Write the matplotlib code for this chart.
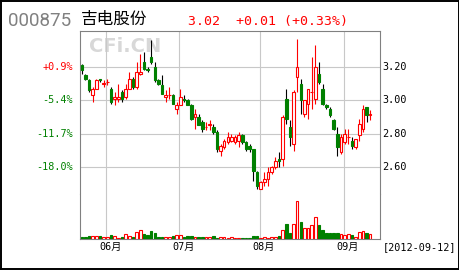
import matplotlib
matplotlib.use("Agg")
import matplotlib.pyplot as plt
from matplotlib.lines import Line2D

OUTPUT_FILE = "out.png"

# daily candles, 2012-05-23 .. 2012-09-12
opens = [3.21, 3.15, 3.12, 3.03, 3.07, 3.13, 3.10, 3.11, 3.07, 3.01,
         3.01, 3.05, 3.02, 3.07, 3.13, 3.08, 3.16, 3.23, 3.19, 3.26,
         3.20, 3.12, 3.09, 3.02, 3.03, 3.03, 2.95, 2.97, 3.01, 3.00,
         2.97, 2.90, 2.90, 2.87, 2.84, 2.85, 2.84, 2.81, 2.70, 2.72,
         2.75, 2.76, 2.75, 2.76, 2.79, 2.75, 2.73, 2.71, 2.57, 2.47,
         2.51, 2.53, 2.57, 2.60, 2.65, 2.65, 3.01, 2.84, 2.74, 3.14,
         3.10, 2.92, 2.98, 3.05, 3.01, 3.16, 3.07, 2.97, 2.95, 2.88,
         2.80, 2.69, 2.75, 2.78, 2.76, 2.72, 2.79, 2.83, 2.96, 2.91]
closes = [3.18, 3.13, 3.06, 3.07, 3.12, 3.12, 3.10, 3.11, 2.99, 3.02,
          3.02, 3.01, 3.07, 3.13, 3.08, 3.17, 3.17, 3.19, 3.18, 3.23,
          3.12, 3.10, 3.04, 3.03, 3.03, 2.98, 2.97, 3.02, 3.00, 2.97,
          2.89, 2.92, 2.85, 2.83, 2.84, 2.86, 2.81, 2.71, 2.73, 2.76,
          2.78, 2.78, 2.78, 2.79, 2.75, 2.71, 2.71, 2.58, 2.49, 2.51,
          2.53, 2.57, 2.60, 2.64, 2.64, 2.90, 2.89, 2.78, 3.05, 3.20,
          3.00, 3.00, 3.07, 3.05, 3.20, 3.11, 2.98, 2.96, 2.91, 2.83,
          2.72, 2.78, 2.80, 2.78, 2.73, 2.77, 2.86, 2.95, 2.91, 2.92]
highs = [3.22, 3.16, 3.13, 3.08, 3.13, 3.13, 3.12, 3.13, 3.08, 3.05,
         3.10, 3.06, 3.10, 3.17, 3.14, 3.23, 3.28, 3.29, 3.20, 3.36,
         3.23, 3.13, 3.15, 3.06, 3.08, 3.04, 2.99, 3.07, 3.03, 3.01,
         2.98, 2.95, 2.92, 2.88, 2.87, 2.88, 2.86, 2.82, 2.74, 2.77,
         2.81, 2.80, 2.79, 2.81, 2.80, 2.76, 2.74, 2.71, 2.58, 2.52,
         2.57, 2.60, 2.61, 2.66, 2.69, 2.91, 3.07, 2.88, 3.06, 3.37,
         3.13, 3.00, 3.07, 3.26, 3.33, 3.23, 3.10, 2.98, 2.96, 2.89,
         2.84, 2.80, 2.83, 2.83, 2.78, 2.77, 2.89, 2.97, 2.96, 2.94]
lows = [3.16, 3.12, 3.05, 2.99, 3.07, 3.11, 3.08, 3.09, 2.98, 2.97,
        2.99, 2.99, 3.01, 3.07, 3.07, 3.07, 3.15, 3.18, 3.17, 3.22,
        3.11, 3.09, 3.04, 2.99, 3.01, 2.98, 2.92, 2.97, 2.99, 2.97,
        2.88, 2.83, 2.85, 2.81, 2.82, 2.82, 2.80, 2.69, 2.67, 2.71,
        2.74, 2.75, 2.74, 2.72, 2.74, 2.70, 2.69, 2.52, 2.47, 2.47,
        2.49, 2.49, 2.56, 2.59, 2.60, 2.61, 2.86, 2.73, 2.70, 3.05,
        2.92, 2.90, 2.89, 2.95, 2.98, 3.10, 2.97, 2.95, 2.90, 2.82,
        2.67, 2.68, 2.74, 2.74, 2.71, 2.71, 2.76, 2.81, 2.87, 2.88]
volumes = [2.0, 2.0, 3.3, 3.3, 3.3, 3.3, 2.0, 2.0, 4.3, 3.3,
           1.7, 2.7, 5.3, 3.3, 2.7, 7.3, 9.3, 5.3, 4.3, 8.7,
           6.0, 2.7, 2.7, 2.0, 2.0, 3.7, 4.7, 4.7, 2.7, 3.3,
           3.3, 2.0, 2.0, 2.0, 2.0, 2.0, 3.7, 1.0, 2.0, 2.0,
           1.3, 2.0, 1.3, 1.3, 1.3, 1.3, 1.3, 3.7, 3.7, 1.0,
           2.0, 1.3, 2.3, 2.3, 3.0, 9.3, 15.7, 6.7, 15.3, 38.0,
           17.3, 11.0, 11.0, 14.3, 22.0, 14.7, 9.3, 6.7, 6.7, 6.0,
           6.0, 5.3, 4.3, 5.3, 4.0, 2.7, 7.0, 8.0, 6.0, 5.3]

month_starts = [7, 27, 49, 72]
month_labels = ["06月", "07月", "08月", "09月"]
price_ticks = [3.20, 3.00, 2.80, 2.60]
pct_labels = ["+0.9%", "-5.4%", "-11.7%", "-18.0%"]

CODE = "000875"
NAME = "吉电股份"
QUOTE = "3.02  +0.01 (+0.33%)"
DATE = "[2012-09-12]"

RED = "#ff0000"
GREEN = "#008000"
GRID = "#c8c8c8"
FRAME = "#808080"
MONO = ["DejaVu Sans Mono", "Noto Sans CJK SC"]


def main():
    fig = plt.figure(figsize=(4.6, 2.7), dpi=100)
    W, H = 460.0, 270.0

    def fx(px):
        return px / W

    def fy(py):
        return 1 - py / H

    left, right = 80, 380
    ax = fig.add_axes([fx(left), fy(194), (right - left) / W, (194 - 31) / H])
    vax = fig.add_axes([fx(left), fy(239.3), (right - left) / W, (239.3 - 194) / H])

    n = len(opens)
    xs = list(range(n))
    xlim = (-0.5, (right - left) / 3.65 - 0.5)
    up = [c >= o for o, c in zip(opens, closes)]

    # wicks
    for i in xs:
        ax.vlines(i, lows[i], highs[i], color=RED if up[i] else "black",
                  lw=0.8, zorder=2)
    # bodies
    bottoms = [min(o, c) for o, c in zip(opens, closes)]
    heights = [max(abs(c - o), 0.002) for o, c in zip(opens, closes)]
    ax.bar(xs, heights, bottom=bottoms, width=0.72,
           color=["white" if u else GREEN for u in up],
           edgecolor=[RED if u else GREEN for u in up], lw=0.8, zorder=3)

    vax.bar(xs, volumes, width=0.72,
            color=["white" if u else GREEN for u in up],
            edgecolor=[RED if u else GREEN for u in up], lw=0.8, zorder=3)

    ax.set_xlim(*xlim)
    vax.set_xlim(*xlim)
    ax.set_ylim(2.44, 3.415)
    vax.set_ylim(0, 45.3)

    for p in price_ticks:
        ax.axhline(p, color=GRID, lw=0.8, zorder=1)
    for m in month_starts:
        ax.axvline(m - 0.3, color=GRID, lw=0.8, zorder=1)
        vax.axvline(m - 0.3, color=GRID, lw=0.8, zorder=1)

    for a in (ax, vax):
        a.set_xticks([])
        a.set_yticks([])
        for s in a.spines.values():
            s.set_color(FRAME)
            s.set_linewidth(0.8)
    ax.spines["bottom"].set_visible(False)
    vax.spines["top"].set_visible(False)

    # watermark
    ax.text(0.152, 0.905, "CFi.CN", transform=ax.transAxes, ha="center",
            va="center", fontsize=14, fontweight="bold", color="#d8d8d8",
            zorder=0)

    # axis labels
    ytr = ax.get_yaxis_transform()
    for p, lab in zip(price_ticks, pct_labels):
        ax.text(-0.023, p, lab, transform=ytr, ha="right", va="center",
                fontsize=7.3, family=MONO, color=RED if lab.startswith("+") else GREEN)
        ax.text(1.008, p, f"{p:.2f}", transform=ytr, ha="left", va="center",
                fontsize=7.3, family=MONO, color="black")

    for m, lab in zip(month_starts, month_labels):
        vax.text(m + 0.9, -0.17, lab, transform=vax.get_xaxis_transform(),
                 ha="center", va="center", fontsize=7.3, family=MONO)
    fig.text(fx(383), fy(246.7), DATE, ha="left", va="center",
             fontsize=7.3, family=MONO)

    # header
    fig.text(fx(8), fy(26), CODE, ha="left", va="baseline", fontsize=13.5,
             family="Roboto", color="#808080")
    fig.text(fx(81), fy(19.2), NAME, ha="left", va="center", fontsize=12,
             family="Noto Sans CJK SC", color="black")
    fig.text(fx(188), fy(25), QUOTE, ha="left", va="baseline", fontsize=9.5,
             family=MONO, color=RED)

    # outer frame
    for xy in (([0.002, 0.002], [0, 1]), ([0.997, 0.997], [0, 1]),
               ([0, 1], [0.004, 0.004]), ([0, 1], [0.997, 0.997])):
        fig.add_artist(Line2D(xy[0], xy[1], color="black", lw=1.4,
                              transform=fig.transFigure))

    fig.savefig(OUTPUT_FILE, dpi=100)
    plt.close(fig)


if __name__ == "__main__":
    main()
